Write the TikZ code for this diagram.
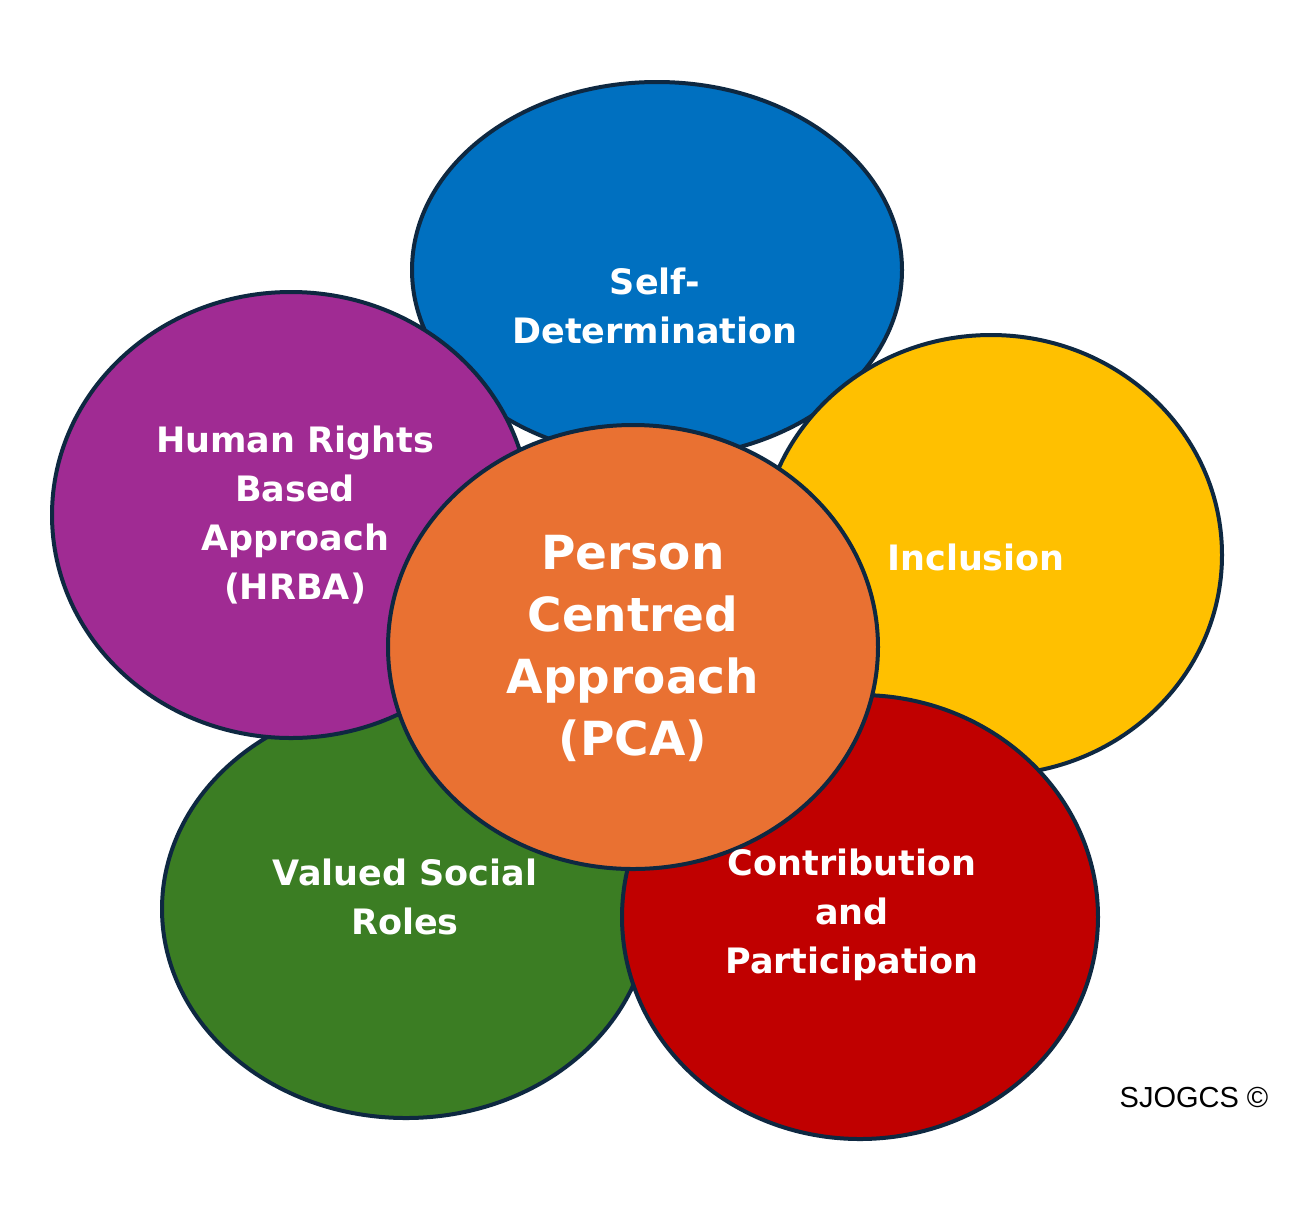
\documentclass[tikz,border=0pt]{standalone}
\usepackage{fontspec}
\setmainfont{DejaVu Sans}
\setsansfont{Liberation Sans}
\definecolor{cblue}{HTML}{0070C0}
\definecolor{cpurple}{HTML}{A02B93}
\definecolor{cyellow}{HTML}{FFC000}
\definecolor{cgreen}{HTML}{3B7D23}
\definecolor{cred}{HTML}{C00000}
\definecolor{corange}{HTML}{E97132}
\definecolor{edge}{HTML}{0E2841}
\begin{document}
\begin{tikzpicture}[x=1pt,y=-1pt,
  petal/.style={draw=edge,line width=4pt},
  lbl/.style={text=white,font=\bfseries\fontsize{35}{49}\selectfont,align=center}]
\useasboundingbox (0,0) rectangle (1292,1221);
\fill[white] (0,0) rectangle (1292,1221);
\filldraw[petal,fill=cblue] (657,270) ellipse [x radius=245,y radius=188];
\filldraw[petal,fill=cyellow] (991,555) ellipse [x radius=231,y radius=220];
\filldraw[petal,fill=cgreen] (406,909) ellipse [x radius=244,y radius=209];
\filldraw[petal,fill=cred] (860,917) ellipse [x radius=238,y radius=222];
\filldraw[petal,fill=cpurple] (291,515) ellipse [x radius=239,y radius=223];
\filldraw[petal,fill=corange] (633,647) ellipse [x radius=245,y radius=222];
\node[lbl] (sd) at (655,306) {Self-\\Determination};
\node[lbl] (hr) at (295,515) {Human Rights\\Based\\Approach\\(HRBA)};
\node[lbl] (in) at (976,557) {Inclusion};
\node[lbl] (vs) at (405,897) {Valued Social\\Roles};
\node[lbl] (cp) at (852,915) {Contribution\\and\\Participation};
\node[text=white,font=\bfseries\fontsize{47}{62}\selectfont,align=center] (pca) at (633,648) {Person\\Centred\\Approach\\(PCA)};
\node[font=\sffamily\fontsize{29}{32}\selectfont] (cr) at (1194,1097) {SJOGCS ©};
\end{tikzpicture}
\end{document}
